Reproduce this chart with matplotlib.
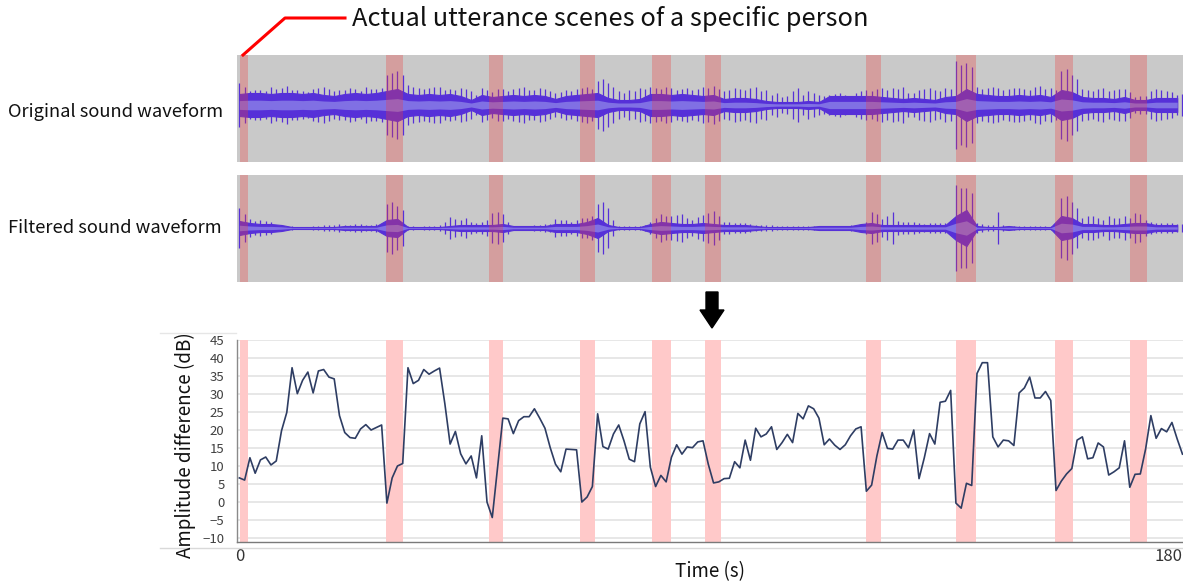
import matplotlib.pyplot as plt
import numpy as np
from matplotlib.lines import Line2D
from matplotlib.patches import Polygon

plt.rcParams['font.family'] = ['Noto Sans CJK JP', 'DejaVu Sans']

# amplitude difference (dB), one value per second
time_s = list(range(180))
amp_diff = [
    6.7, 6.1, 12.3, 8.0, 11.7, 12.5, 10.3, 11.4, 19.8, 24.9,
    37.3, 30.1, 33.8, 36.1, 30.3, 36.4, 36.8, 34.7, 34.2, 24.0,
    19.3, 17.9, 17.7, 20.3, 21.5, 20.0, 20.7, 21.4, -0.3, 6.7,
    10.0, 10.7, 37.3, 32.9, 33.8, 36.8, 35.5, 36.4, 37.2, 27.3,
    16.1, 19.6, 13.4, 10.6, 12.8, 6.7, 18.4, 0.0, -4.3, 9.5,
    23.3, 23.1, 19.0, 22.6, 23.7, 23.7, 25.9, 23.3, 20.5, 15.1,
    10.5, 8.4, 14.7, 14.6, 14.5, 0.0, 1.4, 4.3, 24.5, 15.4,
    14.7, 18.9, 21.4, 17.0, 11.9, 11.2, 21.7, 25.1, 9.7, 4.3,
    7.4, 5.6, 12.4, 15.9, 13.3, 15.3, 15.1, 16.7, 17.0, 10.5,
    5.3, 5.6, 6.5, 6.6, 11.2, 9.5, 17.2, 11.6, 20.5, 18.1,
    18.9, 20.9, 14.6, 16.5, 18.8, 16.5, 24.6, 23.1, 26.7, 25.9,
    23.3, 15.9, 17.5, 15.8, 14.6, 15.9, 18.4, 20.3, 20.9, 3.0,
    4.7, 12.8, 19.3, 14.9, 14.7, 17.2, 17.2, 15.1, 20.0, 6.5,
    12.3, 19.0, 16.1, 27.7, 28.0, 31.0, -0.3, -1.7, 5.2, 4.6,
    35.7, 38.7, 38.7, 18.1, 15.3, 17.2, 17.0, 15.7, 30.3, 31.7,
    34.7, 28.9, 28.9, 30.7, 28.2, 3.2, 5.8, 7.8, 9.3, 17.2,
    18.1, 12.0, 12.3, 16.4, 15.3, 7.5, 8.4, 9.5, 17.0, 4.1,
    7.7, 7.8, 14.7, 24.0, 17.7, 20.4, 19.5, 22.1, 17.5, 13.3,
]

# utterance scenes of the specific person (s)
scene_start = [0.1, 27.8, 47.4, 64.6, 78.3, 88.4, 118.9, 136.1, 154.9, 169.0]
scene_end = [1.6, 31.1, 50.0, 67.5, 82.0, 91.5, 121.8, 139.8, 158.2, 172.2]

# waveform envelopes (half height in pixels): body every 2 s,
# peaks at even and odd seconds
wave_t = list(range(0, 180, 2))
wave_t_odd = list(range(1, 180, 2))
orig_body = [
    11, 12, 12, 11, 12, 12, 11, 12, 10, 9,
    11, 12, 11, 12, 14, 16, 11, 10, 11, 10,
    11, 9, 5, 10, 8, 9, 10, 9, 10, 9,
    6, 9, 10, 11, 12, 7, 5, 5, 6, 11,
    11, 10, 11, 10, 9, 10, 6, 7, 7, 6,
    4, 3, 3, 3, 4, 3, 9, 9, 9, 9,
    9, 8, 7, 6, 7, 6, 5, 8, 9, 16,
    11, 10, 9, 9, 10, 9, 10, 8, 15, 13,
    8, 7, 7, 6, 8, 5, 5, 7, 7, 7,
]
orig_peak = [
    22, 14, 15, 18, 17, 15, 14, 16, 18, 14,
    15, 16, 18, 16, 30, 34, 20, 17, 17, 18,
    16, 17, 14, 17, 13, 16, 16, 18, 15, 16,
    12, 15, 16, 18, 24, 22, 14, 15, 17, 18,
    16, 17, 16, 15, 18, 19, 14, 17, 15, 18,
    15, 12, 9, 17, 14, 10, 10, 12, 9, 14,
    14, 17, 17, 18, 12, 16, 15, 17, 44, 42,
    18, 17, 17, 16, 17, 15, 19, 17, 34, 30,
    16, 14, 17, 15, 16, 8, 9, 16, 14, 10,
]
orig_peak_odd = [
    18, 15, 14, 16, 19, 15, 13, 17, 16, 15,
    17, 14, 16, 17, 32, 30, 18, 16, 18, 15,
    15, 16, 10, 15, 16, 14, 17, 15, 17, 14,
    13, 14, 17, 16, 26, 18, 12, 14, 16, 17,
    18, 15, 17, 16, 17, 16, 15, 16, 17, 14,
    10, 8, 14, 10, 12, 9, 11, 10, 12, 15,
    16, 15, 16, 12, 15, 17, 14, 16, 40, 38,
    16, 18, 15, 17, 16, 18, 16, 15, 36, 26,
    15, 16, 14, 16, 13, 9, 14, 15, 13, 11,
]
filt_body = [
    7, 5, 4, 4, 3, 1, 1, 1, 1, 1,
    2, 2, 2, 2, 8, 9, 1, 1, 1, 1,
    2, 3, 3, 3, 3, 4, 2, 2, 2, 2,
    4, 4, 4, 6, 10, 3, 1, 1, 1, 4,
    6, 5, 4, 4, 5, 4, 3, 3, 3, 2,
    1, 1, 1, 1, 1, 2, 2, 2, 2, 4,
    5, 3, 3, 3, 3, 3, 3, 3, 12, 18,
    2, 1, 1, 2, 1, 1, 1, 1, 12, 10,
    4, 4, 3, 3, 4, 5, 5, 3, 3, 3,
]
filt_peak = [
    20, 9, 8, 6, 2, 2, 1, 2, 3, 3,
    3, 4, 3, 4, 24, 22, 2, 1, 2, 3,
    11, 8, 6, 6, 15, 14, 2, 2, 3, 4,
    9, 8, 8, 10, 24, 20, 2, 2, 2, 6,
    14, 12, 14, 8, 13, 17, 6, 5, 5, 3,
    3, 2, 2, 2, 2, 2, 2, 2, 3, 4,
    16, 9, 16, 6, 6, 4, 5, 5, 43, 40,
    5, 3, 16, 2, 2, 2, 2, 2, 30, 26,
    10, 12, 8, 10, 12, 15, 8, 5, 5, 4,
]
filt_peak_odd = [
    14, 7, 7, 3, 2, 1, 1, 2, 3, 4,
    3, 4, 3, 5, 26, 18, 2, 2, 2, 6,
    9, 10, 5, 8, 16, 6, 2, 2, 3, 4,
    8, 6, 10, 12, 26, 8, 2, 2, 3, 10,
    12, 13, 10, 11, 15, 12, 6, 5, 4, 3,
    3, 2, 2, 2, 2, 2, 2, 2, 3, 6,
    14, 12, 7, 6, 5, 5, 5, 6, 40, 35,
    4, 3, 3, 2, 2, 2, 2, 2, 32, 20,
    12, 10, 12, 10, 10, 14, 6, 5, 5, 4,
]

W, H = 1183, 584


def fx(px):
    return px / W


def fy(py):
    return 1 - py / H


fig = plt.figure(figsize=(W / 100, H / 100), dpi=100)
xlim = (-0.45, 179.1)
wave_dark = '#5630d8'
wave_light = '#8070e4'


def wave_panel(top, bottom, body, peak, peak_odd, ylim):
    ax = fig.add_axes([fx(237), fy(bottom), 1 - fx(237), (bottom - top) / H])
    b = np.array(body, dtype=float)
    p = np.array(peak, dtype=float)
    q = np.array(peak_odd, dtype=float)
    ax.vlines(wave_t, -p, p, color=wave_dark, lw=0.9, zorder=2)
    ax.vlines(wave_t_odd, -q, q, color=wave_dark, lw=0.9, zorder=2)
    ax.fill_between(wave_t, -b, b, color=wave_dark, lw=0.8,
                    edgecolor=wave_dark, zorder=2)
    ax.fill_between(wave_t, -b * 0.4, b * 0.4, color=wave_light, lw=0, zorder=3)
    for s, e in zip(scene_start, scene_end):
        ax.axvspan(s, e, color='#f03c3c', alpha=0.3, lw=0, zorder=4)
    ax.set_xlim(*xlim)
    ax.set_ylim(*ylim)
    ax.axis('off')
    ax.add_patch(plt.Rectangle((0, 0), 1, 1, transform=ax.transAxes,
                               color='#c9c9c9', zorder=0))
    return ax


wave_panel(55, 162, orig_body, orig_peak, orig_peak_odd, (-57, 50))
wave_panel(175, 282, filt_body, filt_peak, filt_peak_odd, (-54, 53))

fig.text(fx(8), fy(112), 'Original sound waveform', fontsize=13.2,
         ha='left', va='center', color='#111111')
fig.text(fx(8), fy(228), 'Filtered sound waveform', fontsize=13.2,
         ha='left', va='center', color='#111111')

# callout
fig.add_artist(Line2D([fx(243), fx(285), fx(345)], [fy(55), fy(18), fy(18)],
                      color='red', lw=2.2, transform=fig.transFigure))
fig.text(fx(352), fy(19), 'Actual utterance scenes of a specific person',
         fontsize=18.3, ha='left', va='center', color='#111111')

# black arrow
arrow_px = [(706, 292), (718, 292), (718, 310), (724, 310), (712, 328),
            (700, 310), (706, 310)]
fig.add_artist(Polygon([(fx(x), fy(y)) for x, y in arrow_px], closed=True,
                       color='black', transform=fig.transFigure))

# line chart
ax = fig.add_axes([fx(237), fy(542), 1 - fx(237), 202 / H])
for s, e in zip(scene_start, scene_end):
    ax.axvspan(s, e, color='#ffc9c9', lw=0, zorder=1)
ax.plot(time_s, amp_diff, color='#2e3d63', lw=1.2, zorder=3)
ax.set_xlim(*xlim)
ax.set_ylim(-11.1, 45)
ax.set_yticks(range(-10, 46, 5))
ax.yaxis.grid(True, color='#e3e3e3', lw=1.2, zorder=0)
ax.set_axisbelow(True)
ax.set_xticks([0, 179])
ax.set_xticklabels(['0', '180'])
ax.get_xticklabels()[1].set_ha('right')
ax.tick_params(axis='y', length=0, pad=9, labelsize=9.5, labelcolor='#404040')
ax.tick_params(axis='x', length=0, pad=4, labelsize=12, labelcolor='#333333')
for side in ['top', 'right']:
    ax.spines[side].set_visible(False)
ax.spines['left'].set_color('#8a8a8a')
ax.spines['bottom'].set_color('#7a7a7a')
ax.spines['left'].set_linewidth(1.0)
ax.spines['bottom'].set_linewidth(1.0)

fig.text(fx(185), fy(445), 'Amplitude difference (dB)', rotation=90,
         fontsize=13.5, ha='center', va='center', color='#111111')
fig.text(fx(710), fy(572), 'Time (s)', fontsize=13.5, ha='center',
         va='center', color='#111111')

# chart frame lines
fig.add_artist(Line2D([fx(160), 1], [fy(548), fy(548)], color='#d9d9d9',
                      lw=1.0, transform=fig.transFigure))
fig.add_artist(Line2D([fx(160), fx(236)], [fy(333), fy(333)], color='#e6e6e6',
                      lw=1.0, transform=fig.transFigure))

fig.savefig('out.png', dpi=100)
